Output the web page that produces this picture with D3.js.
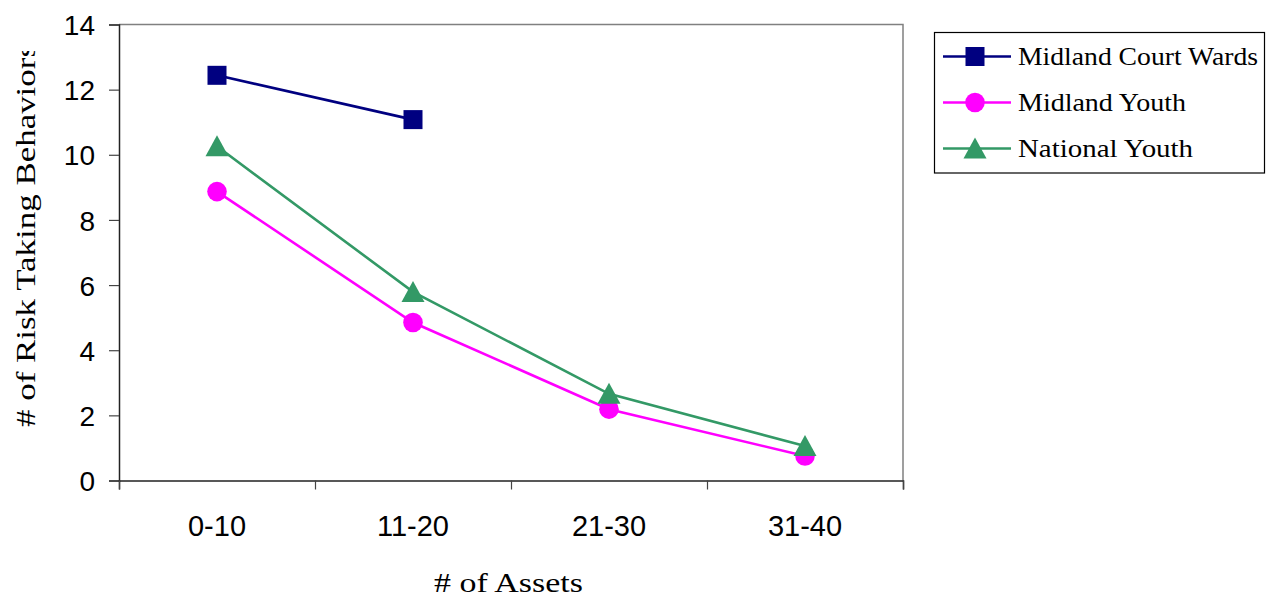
<!DOCTYPE html>
<html>
<head>
<meta charset="utf-8">
<script src="https://cdn.jsdelivr.net/npm/d3@7"></script>
<style>
  html, body { margin: 0; padding: 0; background: #fff; }
  svg { display: block; }
</style>
</head>
<body>
<svg id="chart" width="1266" height="598"></svg>
<script>
// ---- Data ----
const categories = ["0-10", "11-20", "21-30", "31-40"];
const courtWards = [12.44, 11.08, null, null];
const midlandYouth = [8.87, 4.85, 2.19, 0.75];
const nationalYouth = [10.26, 5.79, 2.66, 1.06];
const yTicks = [0, 2, 4, 6, 8, 10, 12, 14];
const seriesNames = ["Midland Court Wards", "Midland Youth", "National Youth"];

const series = [
  { name: seriesNames[0], values: courtWards, color: "#000080", marker: "square" },
  { name: seriesNames[1], values: midlandYouth, color: "#FF00FF", marker: "circle" },
  { name: seriesNames[2], values: nationalYouth, color: "#339966", marker: "triangle" }
];

// ---- Layout ----
const plot = { left: 119, right: 903, top: 24.5, bottom: 480.5 };
const svg = d3.select("#chart");

const x = d3.scaleBand().domain(categories).range([plot.left, plot.right]).padding(0);
const xEdge = d3.scaleLinear().domain([0, categories.length]).range([plot.left, plot.right]);
const y = d3.scaleLinear().domain([0, 14]).range([plot.bottom, plot.top]);
const cx = c => x(c) + x.bandwidth() / 2;

// plot frame (top/right gray)
svg.append("path")
  .attr("d", `M${plot.left},${plot.top}H${plot.right}V${plot.bottom}`)
  .attr("fill", "none").attr("stroke", "#808080").attr("stroke-width", 1.5);

// Y axis
const yAxis = svg.append("g").attr("transform", `translate(${plot.left},0)`)
  .call(d3.axisLeft(y).tickValues(yTicks).tickSize(10).tickPadding(14).tickFormat(d3.format("d")));
yAxis.select(".domain").attr("stroke", "#222").attr("stroke-width", 1.5);
yAxis.selectAll(".tick line").attr("stroke", "#444").attr("stroke-width", 1.2);
yAxis.selectAll(".tick text")
  .attr("font-family", "'Liberation Sans', Arial, sans-serif")
  .attr("font-size", 28).attr("fill", "#000").attr("dy", "0.36em");

// X axis: ticks at band edges
const xTickAxis = svg.append("g").attr("transform", `translate(0,${plot.bottom})`)
  .call(d3.axisBottom(xEdge).tickValues(d3.range(0, categories.length + 1)).tickSize(9).tickFormat(""));
xTickAxis.select(".domain").attr("stroke", "#222").attr("stroke-width", 1.5);
xTickAxis.selectAll(".tick line").attr("stroke", "#444").attr("stroke-width", 1.2);

// X axis labels
const xLab = svg.append("g").attr("transform", `translate(0,${plot.bottom})`)
  .call(d3.axisBottom(x).tickSize(0).tickPadding(0));
xLab.select(".domain").remove();
xLab.selectAll(".tick text")
  .attr("font-family", "'Liberation Sans', Arial, sans-serif")
  .attr("font-size", 29).attr("fill", "#000").attr("dy", 0).attr("y", 55.5);

// Axis titles
svg.append("text")
  .attr("x", 508.5).attr("y", 592)
  .attr("text-anchor", "middle")
  .attr("font-family", "'Liberation Serif', 'Times New Roman', serif")
  .attr("font-size", 27).attr("fill", "#000")
  .attr("textLength", 149).attr("lengthAdjust", "spacingAndGlyphs")
  .text("# of Assets");

svg.append("clipPath").attr("id", "ytclip")
  .append("rect").attr("x", 0).attr("y", 51).attr("width", 60).attr("height", 500);
svg.append("g").attr("clip-path", "url(#ytclip)")
  .append("text")
  .attr("transform", "translate(35,427) rotate(-90)")
  .attr("x", 0).attr("y", 0)
  .attr("font-family", "'Liberation Serif', 'Times New Roman', serif")
  .attr("font-size", 27).attr("fill", "#000")
  .attr("textLength", 383).attr("lengthAdjust", "spacingAndGlyphs")
  .text("# of Risk Taking Behaviors");

// Markers
function drawMarker(g, type, px, py, color) {
  if (type === "square") {
    g.append("rect").attr("x", px - 9.5).attr("y", py - 9.5).attr("width", 19).attr("height", 19).attr("fill", color);
  } else if (type === "circle") {
    g.append("circle").attr("cx", px).attr("cy", py).attr("r", 9.8).attr("fill", color);
  } else {
    g.append("path").attr("d", `M${px},${py - 11}L${px + 11.5},${py + 10}L${px - 11.5},${py + 10}Z`).attr("fill", color);
  }
}

// Lines + markers
const line = d3.line()
  .defined(d => d.v !== null)
  .x(d => cx(d.c))
  .y(d => y(d.v));

series.forEach(s => {
  const pts = categories.map((c, i) => ({ c, v: s.values[i] }));
  const g = svg.append("g");
  g.append("path").datum(pts).attr("d", line)
    .attr("fill", "none").attr("stroke", s.color).attr("stroke-width", 2.6);
  pts.filter(p => p.v !== null).forEach(p => drawMarker(g, s.marker, cx(p.c), y(p.v), s.color));
});

// Legend
const legend = svg.append("g");
legend.append("rect").attr("x", 934.5).attr("y", 32.5).attr("width", 330).attr("height", 140.5)
  .attr("fill", "#fff").attr("stroke", "#000").attr("stroke-width", 1.2);
const legendRowY = [56.5, 102.5, 148.5];
const legendWidths = [240, 168, 175];
series.forEach((s, i) => {
  const ly = legendRowY[i];
  legend.append("line").attr("x1", 943).attr("x2", 1011).attr("y1", ly).attr("y2", ly)
    .attr("stroke", s.color).attr("stroke-width", 2.6);
  const mg = legend.append("g");
  drawMarker(mg, s.marker, 975, ly, s.color);
  legend.append("text").attr("x", 1018).attr("y", ly + 8)
    .attr("font-family", "'Liberation Serif', 'Times New Roman', serif")
    .attr("font-size", 25).attr("fill", "#000")
    .attr("textLength", legendWidths[i]).attr("lengthAdjust", "spacingAndGlyphs")
    .text(s.name);
});
</script>
</body>
</html>
